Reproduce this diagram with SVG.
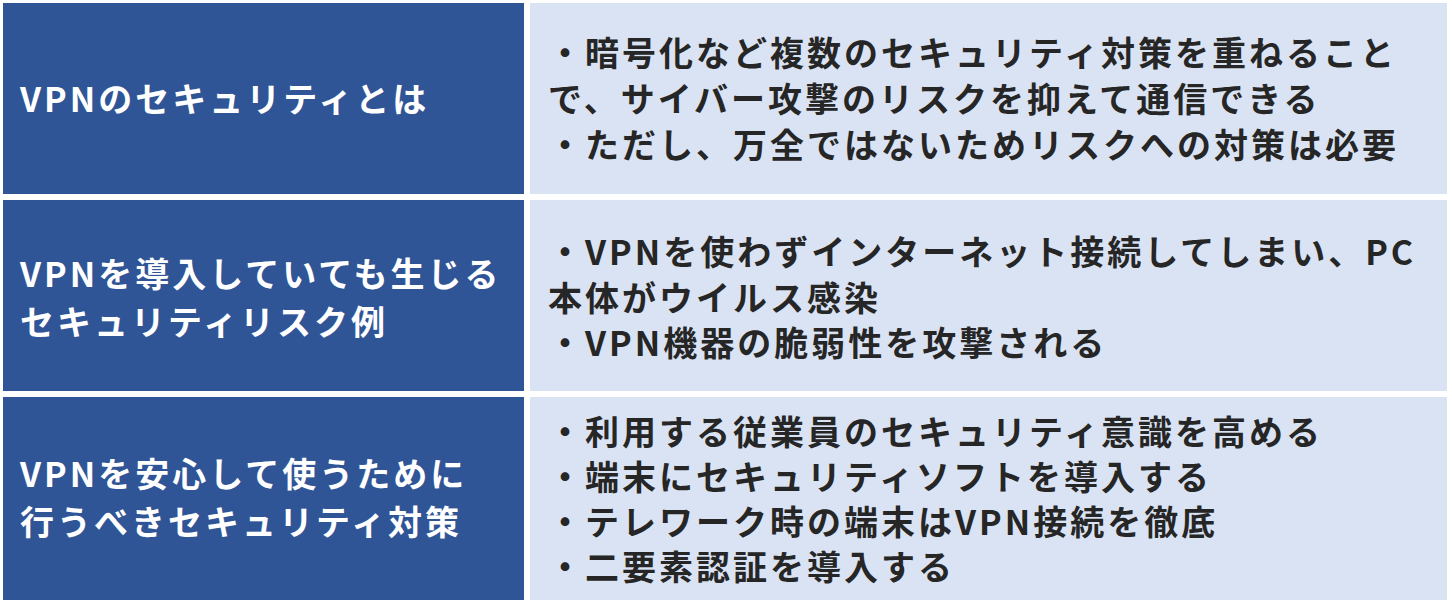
<svg xmlns="http://www.w3.org/2000/svg" width="1452" height="612" viewBox="0 0 1452 612">
<style>
.h{fill:#2F5597}
.c{fill:#DAE3F3}
text{font-family:"Noto Sans CJK JP","Noto Sans",sans-serif;font-weight:bold;font-size:34px;letter-spacing:3px;dominant-baseline:central}
.w{fill:#FFFFFF}
.d{fill:#262626}
</style>
<rect width="1452" height="612" fill="#FFFFFF"/>
<g id="row1">
<rect class="h" x="3" y="3" width="521" height="191"/>
<rect class="c" x="530" y="3" width="917" height="191"/>
<text class="w" x="20" y="97">VPNのセキュリティとは</text>
<text class="d" x="548" y="51">・暗号化など複数のセキュリティ対策を重ねること</text>
<text class="d" x="548" y="97">で、サイバー攻撃のリスクを抑えて通信できる</text>
<text class="d" x="548" y="143">・ただし、万全ではないためリスクへの対策は必要</text>
</g>
<g id="row2">
<rect class="h" x="3" y="200" width="521" height="191"/>
<rect class="c" x="530" y="200" width="917" height="191"/>
<text class="w" x="20" y="272">VPNを導入していても生じる</text>
<text class="w" x="20" y="320">セキュリティリスク例</text>
<text class="d" x="548" y="250">・VPNを使わずインターネット接続してしまい、PC</text>
<text class="d" x="548" y="296">本体がウイルス感染</text>
<text class="d" x="548" y="341">・VPN機器の脆弱性を攻撃される</text>
</g>
<g id="row3">
<rect class="h" x="3" y="397" width="521" height="203"/>
<rect class="c" x="530" y="397" width="917" height="203"/>
<text class="w" x="20" y="472">VPNを安心して使うために</text>
<text class="w" x="20" y="520">行うべきセキュリティ対策</text>
<text class="d" x="548" y="430">・利用する従業員のセキュリティ意識を高める</text>
<text class="d" x="548" y="475">・端末にセキュリティソフトを導入する</text>
<text class="d" x="548" y="520">・テレワーク時の端末はVPN接続を徹底</text>
<text class="d" x="548" y="565">・二要素認証を導入する</text>
</g>
<g id="connectors"/>
</svg>
